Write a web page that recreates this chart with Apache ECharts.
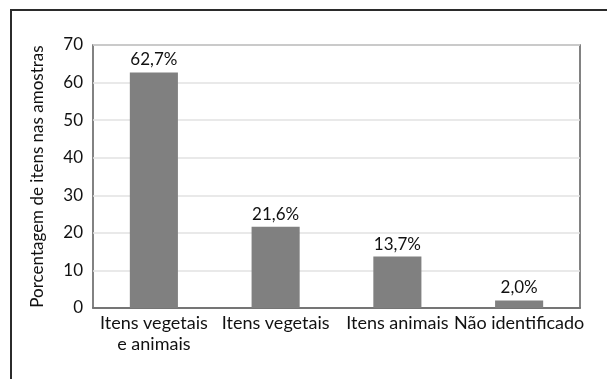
<!DOCTYPE html>
<html lang="pt">

<head>
  <meta charset="UTF-8">
  <title>Porcentagem de itens nas amostras</title>
  <style>
    html, body {
      margin: 0;
      padding: 0;
      background: #fff;
    }
    #root {
      width: 607px;
      height: 379px;
    }
  </style>
</head>

<body>
  <div id="root"></div>
</body>
<script src="https://cdn.jsdelivr.net/npm/echarts@6/dist/echarts.min.js"></script>
<script>
  // dados
  const categorias = ['Itens vegetais\ne animais', 'Itens vegetais', 'Itens animais', 'Não identificado']
  const valores = [62.7, 21.6, 13.7, 2.0]
  const rotulos = ['62,7%', '21,6%', '13,7%', '2,0%']
  const ticksY = [0, 10, 20, 30, 40, 50, 60, 70]

  const fonte = 'Lato, "Open Sans", sans-serif'

  let myChart = echarts.init(document.getElementById('root'))

  let option = {
    backgroundColor: '#fff',
    animation: false,
    textStyle: { fontFamily: fonte },
    // moldura de cima e da esquerda
    graphic: [{
      type: 'polyline',
      shape: { points: [[11, 379], [11, 10], [607, 10]] },
      style: { stroke: '#2b2b2b', lineWidth: 2, fill: null },
      silent: true
    }],
    grid: {
      left: 93,
      top: 45,
      right: 27,
      bottom: 71,
      show: true,
      borderColor: '#5a5a5a',
      borderWidth: 1.5,
      outerBoundsMode: 'none'
    },
    xAxis: {
      type: 'category',
      data: categorias,
      axisTick: { show: false },
      axisLine: { lineStyle: { color: '#5a5a5a', width: 1.5 } },
      axisLabel: {
        color: '#111',
        fontSize: 18,
        lineHeight: 21,
        margin: 5,
        interval: 0
      }
    },
    yAxis: {
      type: 'value',
      min: ticksY[0],
      max: ticksY[ticksY.length - 1],
      interval: 10,
      name: 'Porcentagem de itens nas amostras',
      nameLocation: 'middle',
      nameGap: 47,
      nameTextStyle: { color: '#111', fontSize: 17 },
      axisLine: { show: false },
      axisTick: { show: false },
      axisLabel: { color: '#111', fontSize: 17, margin: 10 },
      splitLine: { lineStyle: { color: '#e2e2e2', width: 1.5 } }
    },
    series: [
      {
        type: 'bar',
        data: valores,
        barWidth: '39.5%',
        itemStyle: { color: '#808080' },
        label: {
          show: true,
          position: 'top',
          distance: 4,
          color: '#111',
          fontSize: 17,
          formatter: p => rotulos[p.dataIndex]
        }
      }
    ]
  };

  myChart.setOption(option)
</script>

</html>
